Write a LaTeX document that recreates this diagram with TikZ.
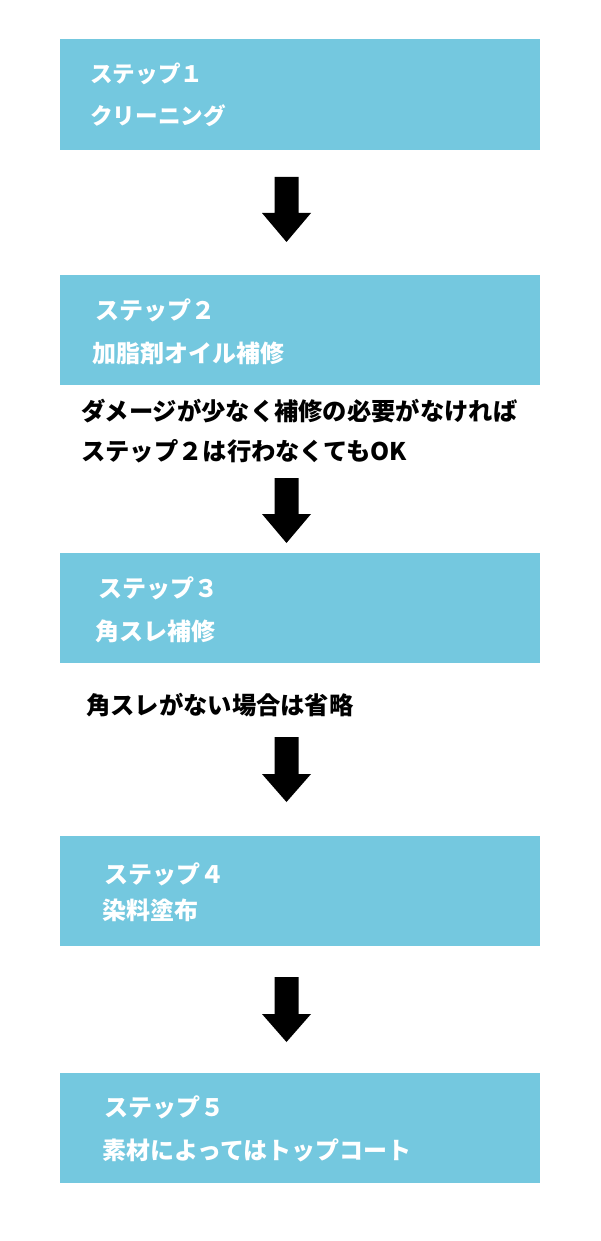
\documentclass[tikz,border=0pt]{standalone}
\usepackage{fontspec}
\newfontfamily\jpfont{Noto Sans CJK JP}
\definecolor{stepblue}{RGB}{116,200,223}
\tikzset{
  stepbox/.style={fill=stepblue, draw=none},
  boxtext/.style={anchor=west, inner sep=0pt, text=white, font=\jpfont\bfseries\fontsize{24}{24}\selectfont},
  boxtextsmall/.style={boxtext, font=\jpfont\bfseries\fontsize{22.6}{23}\selectfont},
  notetext/.style={anchor=west, inner sep=0pt, text=black, font=\jpfont\bfseries\fontsize{24.3}{24}\selectfont},
  blkarrow/.style={fill=black, draw=none}
}
\newcommand{\downblockarrow}[4]{% name, top, headstart, tip
  \coordinate (#1-top) at (286.5,#2);
  \coordinate (#1-tip) at (286.5,#4);
  \fill[blkarrow] (274.5,#2) -- (298.5,#2) -- (298.5,#3) -- (311,#3) -- (#1-tip) -- (262,#3) -- (274.5,#3) -- cycle;
}
\begin{document}
\begin{tikzpicture}[x=1pt,y=-1pt]
\useasboundingbox[fill=white] (0,0) rectangle (600,1241);
% boxes
\fill[stepbox] (60,39) rectangle (540,150);
\coordinate (b1) at (300,95);
\fill[stepbox] (60,275) rectangle (540,385);
\coordinate (b2) at (300,330);
\fill[stepbox] (60,553) rectangle (540,663);
\coordinate (b3) at (300,608);
\fill[stepbox] (60,836) rectangle (540,946);
\coordinate (b4) at (300,891);
\fill[stepbox] (60,1073) rectangle (540,1183);
\coordinate (b5) at (300,1128);
% box texts
\node[boxtextsmall] (s1a) at (90,74) {ステップ１};
\node[boxtextsmall] (s1b) at (90,116) {クリーニング};
\node[boxtext] (s2a) at (95,310) {ステップ２};
\node[boxtext] (s2b) at (92,353) {加脂剤オイル補修};
\node[boxtext] (s3a) at (98,588) {ステップ３};
\node[boxtext] (s3b) at (95,631) {角スレ補修};
\node[boxtext] (s4a) at (104,874) {ステップ４};
\node[boxtext] (s4b) at (102,910) {染料塗布};
\node[boxtext] (s5a) at (104,1107) {ステップ５};
\node[boxtext] (s5b) at (102,1150) {素材によってはトップコート};
% notes
\node[notetext] (n1) at (81,411) {ダメージが少なく補修の必要がなければ};
\node[notetext] (n2) at (81,451) {ステップ２は行わなくてもOK};
\node[notetext] (n3) at (86,705) {角スレがない場合は省略};
% arrows
\downblockarrow{a1}{177}{213}{242}
\downblockarrow{a2}{478}{514}{543}
\downblockarrow{a3}{737}{774}{802}
\downblockarrow{a4}{977}{1014}{1042}
\end{tikzpicture}
\end{document}
